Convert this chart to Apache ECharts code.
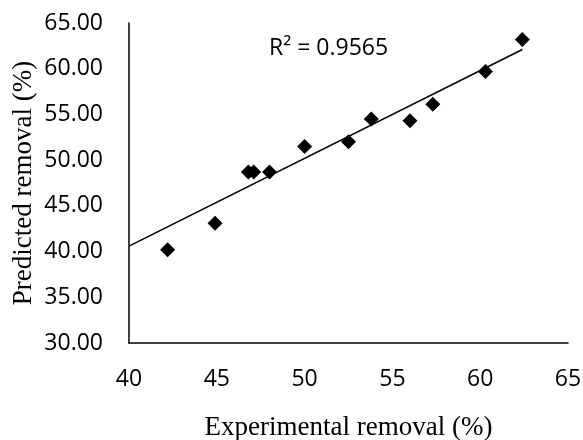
<!DOCTYPE html>
<html>
<head>
<meta charset="utf-8">
<script src="https://cdn.jsdelivr.net/npm/echarts@6/dist/echarts.min.js"></script>
<style>
  html, body { margin: 0; padding: 0; background: #fff; }
  #chart { width: 583px; height: 440px; }
</style>
</head>
<body>
<div id="chart"></div>
<script>
// values
const experimental = [42.2, 44.9, 46.8, 47.1, 48.0, 50.0, 52.5, 53.8, 56.0, 57.3, 60.3, 62.4];
const predicted = [40.2, 43.1, 48.7, 48.7, 48.7, 51.5, 52.0, 54.5, 54.3, 56.1, 59.7, 63.2];
// trendline ends as drawn in the picture
const trendX = [40, 62.4];
const trendY = [40.6, 62.1];
const rSquaredLabel = 'R² = 0.9565';
const xTitle = 'Experimental removal (%)';
const yTitle = 'Predicted removal (%)';

const tickFont = { color: '#000', fontFamily: 'Open Sans', fontSize: 23 };
const titleFont = { color: '#000', fontFamily: 'Liberation Serif', fontSize: 27 };

const chart = echarts.init(document.getElementById('chart'));

chart.setOption({
  animation: false,
  backgroundColor: '#fff',
  grid: { left: 129, right: 15, top: 23, bottom: 97, outerBoundsMode: 'none' },
  xAxis: {
    type: 'value',
    min: 40,
    max: 65,
    interval: 5,
    name: xTitle,
    nameLocation: 'middle',
    nameGap: 71,
    nameMoveOverlap: false,
    nameTextStyle: titleFont,
    axisLine: { lineStyle: { color: '#000', width: 1.5 } },
    axisTick: { show: false },
    splitLine: { show: false },
    axisLabel: Object.assign({ margin: 25 }, tickFont)
  },
  yAxis: {
    type: 'value',
    min: 30,
    max: 65,
    interval: 5,
    name: yTitle,
    nameLocation: 'middle',
    nameGap: 92,
    nameMoveOverlap: false,
    nameTextStyle: titleFont,
    axisLine: { show: true, lineStyle: { color: '#000', width: 1.5 } },
    axisTick: { show: false },
    splitLine: { show: false },
    axisLabel: Object.assign({
      margin: 26,
      formatter: v => v.toFixed(2)
    }, tickFont)
  },
  graphic: [{
    type: 'text',
    x: 269,
    y: 48,
    style: {
      text: rSquaredLabel,
      fill: '#000',
      font: '23px "Open Sans"',
      verticalAlign: 'middle'
    }
  }],
  series: [
    {
      type: 'line',
      data: trendX.map((x, i) => [x, trendY[i]]),
      symbol: 'none',
      lineStyle: { color: '#000', width: 1.5 },
      z: 2
    },
    {
      type: 'scatter',
      data: experimental.map((x, i) => [x, predicted[i]]),
      symbol: 'diamond',
      symbolSize: 15,
      itemStyle: { color: '#000', opacity: 1 },
      z: 3
    }
  ]
});
</script>
</body>
</html>
